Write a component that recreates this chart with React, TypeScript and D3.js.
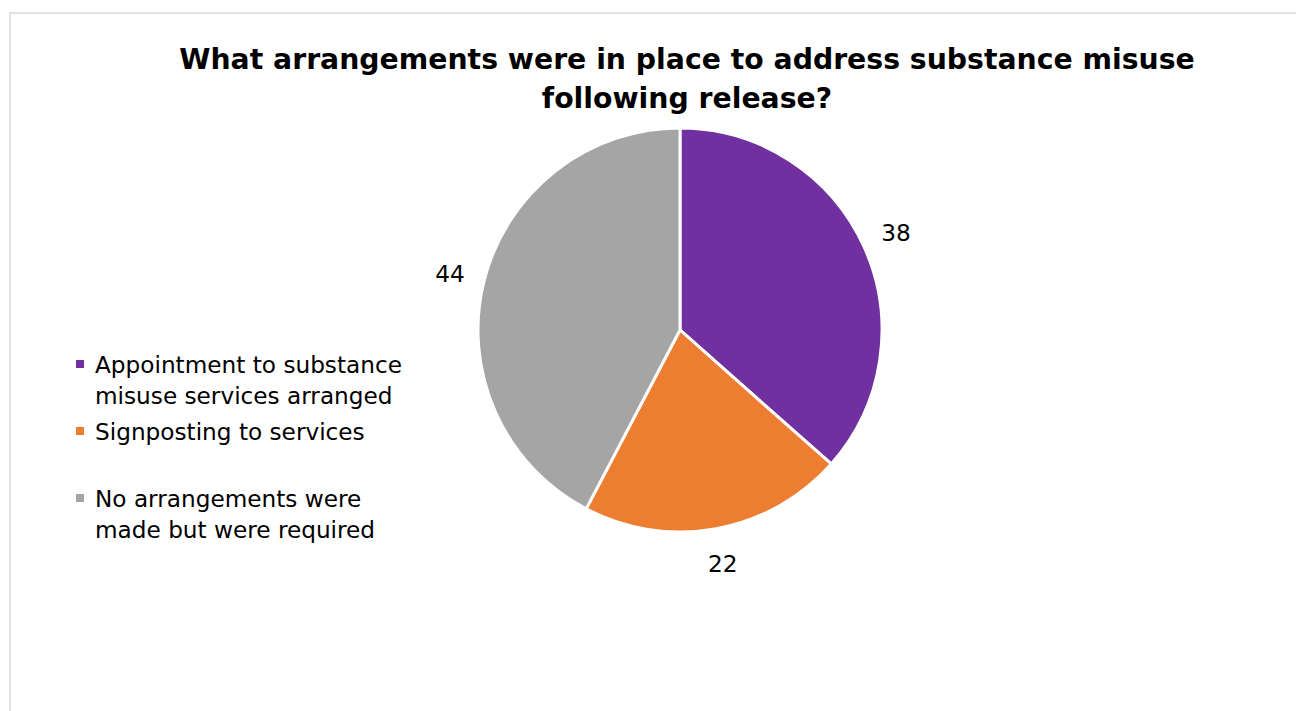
import * as d3 from "d3";

const categories = [
  "Appointment to substance misuse services arranged",
  "Signposting to services",
  "No arrangements were made but were required",
];
const values = [38, 22, 44];
const colors = ["#7030a0", "#ed7d31", "#a5a5a5"];
// legend text wrapped the way the original does it
const legendLines = [
  ["Appointment to substance", "misuse services arranged"],
  ["Signposting to services"],
  ["No arrangements were", "made but were required"],
];
const titleLines = [
  "What arrangements were in place to address substance misuse",
  "following release?",
];

const width = 1296;
const height = 711;
const cx = 680;
const cy = 330;
const radius = 202;
const labelRadius = 237;
const font = "'DejaVu Sans', Verdana, sans-serif";

export default function App() {
  const pie = d3
    .pie<number>()
    .sort(null)
    .value((d) => d);
  const arcs = pie(values);
  const arc = d3.arc<d3.PieArcDatum<number>>().innerRadius(0).outerRadius(radius);
  const labelArc = d3
    .arc<d3.PieArcDatum<number>>()
    .innerRadius(labelRadius)
    .outerRadius(labelRadius);

  // legend rows: first line baselines, 31px per wrapped line
  const legendTops = [373, 440, 507];

  return (
    <svg
      width={width}
      height={height}
      style={{ position: "absolute", left: 0, top: 0, background: "#fff" }}
    >
      <rect x={10} y={13} width={1300} height={720} fill="#fff" stroke="#d9d9d9" strokeWidth={1.5} />

      <g fontFamily={font} fontWeight="bold" fontSize={28.3} textAnchor="middle" fill="#000">
        {titleLines.map((t, i) => (
          <text key={i} x={687} y={69 + i * 39}>
            {t}
          </text>
        ))}
      </g>

      <g transform={`translate(${cx},${cy})`}>
        {arcs.map((a, i) => (
          <path key={categories[i]} d={arc(a) || ""} fill={colors[i]} stroke="#fff" strokeWidth={3} />
        ))}
        {arcs.map((a, i) => {
          const [x, y] = labelArc.centroid(a);
          return (
            <text
              key={i}
              x={x}
              y={y}
              textAnchor="middle"
              dominantBaseline="central"
              fontFamily={font}
              fontSize={23.2}
              fill="#000"
            >
              {a.data}
            </text>
          );
        })}
      </g>

      <g fontFamily={font} fontSize={23.2} fill="#000">
        {legendLines.map((lines, i) => (
          <g key={i}>
            <rect x={76} y={legendTops[i] - 13} width={8} height={8} fill={colors[i]} />
            {lines.map((l, j) => (
              <text key={j} x={95} y={legendTops[i] + j * 31}>
                {l}
              </text>
            ))}
          </g>
        ))}
      </g>
    </svg>
  );
}
